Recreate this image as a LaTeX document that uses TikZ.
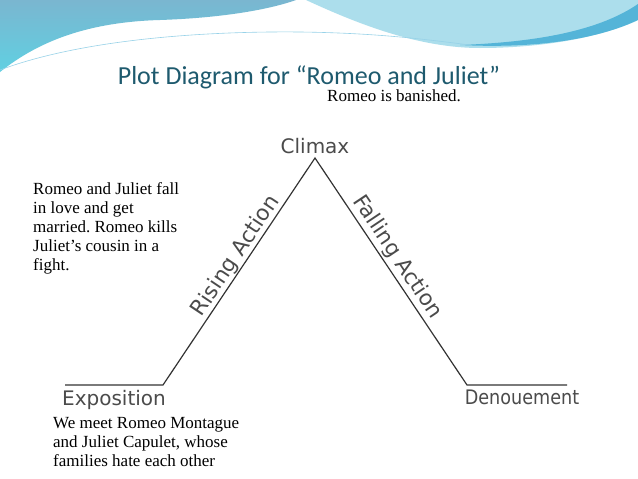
\documentclass[tikz,border=0pt]{standalone}
\usepackage{fontspec}
\setmainfont{Liberation Serif}
\newfontfamily\titlefont{Carlito}
\newfontfamily\stagefont{DejaVu Sans}
\usetikzlibrary{positioning}
\definecolor{titleteal}{RGB}{30,90,110}
\definecolor{waveblue}{RGB}{122,182,208}
\definecolor{wavecyan}{RGB}{96,208,226}
\definecolor{wavelight}{RGB}{172,222,236}
\definecolor{waveband}{RGB}{84,180,216}
\definecolor{stagegray}{RGB}{75,75,75}
\frenchspacing

\begin{document}
\begin{tikzpicture}[x=1pt, y=-1pt,
  stage/.style={font=\stagefont\fontsize{20}{22}\selectfont, text=stagegray, inner sep=1pt},
  arc/.style={font=\stagefont\fontsize{21.5}{24}\selectfont, text=stagegray, sloped, inner sep=0.5pt},
  event/.style={font=\fontsize{17}{19}\selectfont, align=left, inner sep=0pt}]
\useasboundingbox (0,0) rectangle (638,479);
\fill[white] (0,0) rectangle (638,479);
\shade[top color=waveblue, bottom color=wavecyan] (0,0) -- (296,0) .. controls (268,10) and (220,18) .. (160,20) .. controls (90,22) and (40,40) .. (0,72) -- cycle;
\fill[wavelight] (306,0) -- (638,0) -- (638,20) .. controls (600,38) and (540,48) .. (480,48) .. controls (420,48) and (360,25) .. (306,0) -- cycle;
\fill[waveband] (638,4) .. controls (600,30) and (540,42) .. (460,45) .. controls (540,49) and (600,38) .. (638,20) -- cycle;
\draw[waveband!60, line width=0.6pt] (0,70) .. controls (80,40) and (200,31) .. (300,32) .. controls (380,33) and (430,40) .. (470,45);
\node[font=\titlefont\fontsize{26}{30}\selectfont, text=titleteal, anchor=base] (title) at (309,84) {Plot Diagram for “Romeo and Juliet”};
\coordinate (expL) at (65,385);
\coordinate (expR) at (163,385);
\coordinate (peak) at (315,158);
\coordinate (denL) at (467,385);
\coordinate (denR) at (567,385);
\draw[line width=1.2pt, black!80] (expL) -- (expR) -- (peak) -- (denL) -- (denR);
\path (expR) -- (peak) node[arc, above, pos=0.54] (rising) {Rising Action};
\path (peak) -- (denL) node[arc, above=2pt, pos=0.47] (falling) {Falling Action};
\node[stage, above=3pt of peak] (climax) {Climax};
\path (expL) -- (expR) node[stage, midway, below=4pt] (expo) {Exposition};
\path (denL) -- (denR) node[stage, midway, below=4pt, xshift=5pt] (denoue) {\scalebox{0.88}[1]{Denouement}};
\node[event, anchor=base west] (banished) at (327,101) {Romeo is banished.};
\node[event, anchor=north west] (love) at (33,182) {Romeo and Juliet fall\\in love and get\\married. Romeo kills\\Juliet’s cousin in a\\fight.};
\node[event, anchor=north west] (meet) at (53,417) {We meet Romeo Montague\\and Juliet Capulet, whose\\families hate each other};
\end{tikzpicture}
\end{document}
